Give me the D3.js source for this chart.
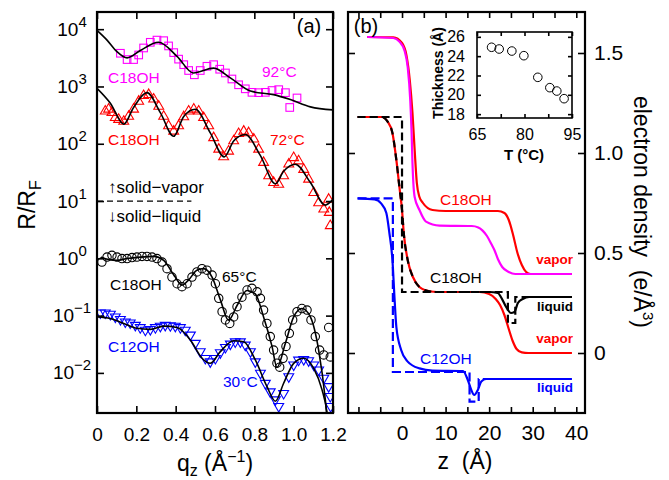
<!DOCTYPE html>
<html>
<head>
<meta charset="utf-8">
<script src="https://cdn.jsdelivr.net/npm/d3@7"></script>
<style>
  body { margin: 0; background: #fff; }
  svg text { font-family: "Liberation Sans", Arial, Helvetica, sans-serif; }
</style>
</head>
<body>
<svg id="fig" width="669" height="480"></svg>
<script>
// ---------- panel (a): R/RF vs qz ----------
const qTicks = [0, 0.2, 0.4, 0.6, 0.8, 1.0, 1.2];
const decades = [1e-2, 1e-1, 1, 10, 100, 1e3, 1e4];

// C18OH 92°C (solid-vapor), squares + fit
const sq92 = [[0.119,3800],[0.153,2950],[0.186,2950],[0.212,3550],[0.237,4700],[0.271,5900],[0.305,6450],[0.339,6300],[0.364,5100],[0.390,3900],[0.415,3000],[0.441,2400],[0.466,1900],[0.495,1600],[0.525,1900],[0.559,2250],[0.593,2400],[0.624,2000],[0.653,1720],[0.686,1350],[0.720,1070],[0.754,910],[0.788,790],[0.822,780],[0.856,790],[0.890,850],[0.924,880],[0.958,780],[0.980,430],[1.017,630]];
const fit92 = [[0,9550],[0.051,6450],[0.1,4100],[0.153,3160],[0.22,4250],[0.313,5900],[0.407,3350],[0.49,1720],[0.593,2090],[0.678,1410],[0.78,830],[0.898,720],[0.983,590],[1.085,440],[1.2,390]];

// C18OH 72°C (solid-vapor), triangles + fit
const tri72 = [[0.042,370],[0.059,400],[0.076,350],[0.093,285],[0.110,265],[0.136,245],[0.161,300],[0.186,400],[0.212,550],[0.237,690],[0.263,720],[0.288,600],[0.314,450],[0.339,300],[0.364,205],[0.390,165],[0.415,205],[0.441,295],[0.466,370],[0.492,400],[0.517,370],[0.542,285],[0.568,205],[0.593,127],[0.619,80],[0.644,59],[0.669,74],[0.695,112],[0.720,150],[0.746,165],[0.771,155],[0.797,120],[0.822,80],[0.847,47],[0.873,27.5],[0.898,21],[0.924,19.5],[0.949,27.5],[0.975,44],[1.0,57],[1.025,50],[1.051,35.5],[1.076,24],[1.102,14],[1.127,9.3],[1.153,7.2],[1.178,10.7],[1.181,6.3],[1.186,3.7]];
const fit72 = [[0,930],[0.068,510],[0.136,220],[0.186,430],[0.254,780],[0.322,350],[0.390,135],[0.441,300],[0.5,400],[0.576,155],[0.647,59],[0.695,112],[0.754,145],[0.831,62],[0.907,20],[0.949,33],[1.008,44],[1.085,21],[1.161,8.5],[1.2,10.7]];

// C18OH 65°C (solid-liquid), circles + fit
const circ65 = [[0.025,0.86],[0.051,1.05],[0.076,1.13],[0.102,1.05],[0.127,0.99],[0.153,0.99],[0.178,1.03],[0.203,1.05],[0.229,1.08],[0.254,1.08],[0.280,1.05],[0.305,0.99],[0.331,0.86],[0.356,0.66],[0.381,0.47],[0.407,0.36],[0.432,0.32],[0.458,0.36],[0.483,0.47],[0.508,0.58],[0.534,0.66],[0.559,0.62],[0.585,0.51],[0.602,0.36],[0.619,0.20],[0.636,0.117],[0.653,0.084],[0.675,0.073],[0.695,0.095],[0.712,0.143],[0.737,0.21],[0.763,0.28],[0.788,0.30],[0.814,0.26],[0.831,0.20],[0.847,0.125],[0.864,0.073],[0.881,0.043],[0.898,0.025],[0.915,0.0148],[0.929,0.0126],[0.946,0.018],[0.961,0.029],[0.978,0.049],[0.995,0.084],[1.017,0.117],[1.042,0.133],[1.068,0.125],[1.088,0.084],[1.110,0.043],[1.132,0.025],[1.153,0.0206],[1.178,0.062],[1.186,0.019]];
const fit65 = [[0.02,1.05],[0.06,0.95],[0.102,0.92],[0.153,0.99],[0.22,1.05],[0.288,1.08],[0.339,0.92],[0.398,0.47],[0.432,0.34],[0.466,0.42],[0.508,0.62],[0.542,0.66],[0.585,0.47],[0.627,0.19],[0.669,0.083],[0.712,0.15],[0.763,0.275],[0.805,0.24],[0.847,0.095],[0.890,0.029],[0.915,0.0125],[0.958,0.033],[1.0,0.095],[1.042,0.133],[1.085,0.095],[1.127,0.025],[1.161,0.0034],[1.175,0.001]];

// C12OH 30°C (solid-liquid), down triangles + fit
const tri30 = [[0.017,0.112],[0.042,0.112],[0.068,0.106],[0.093,0.095],[0.119,0.086],[0.144,0.078],[0.169,0.075],[0.195,0.068],[0.220,0.062],[0.246,0.056],[0.271,0.0575],[0.297,0.062],[0.322,0.0656],[0.347,0.068],[0.373,0.067],[0.398,0.0656],[0.424,0.062],[0.449,0.056],[0.475,0.046],[0.5,0.033],[0.525,0.0235],[0.551,0.018],[0.576,0.0157],[0.602,0.018],[0.627,0.0226],[0.653,0.028],[0.678,0.032],[0.703,0.035],[0.729,0.035],[0.754,0.0307],[0.780,0.0235],[0.805,0.0157],[0.831,0.0099],[0.856,0.0066],[0.881,0.0047],[0.907,0.0034],[0.924,0.0026],[0.949,0.0044],[0.975,0.0086],[1.0,0.0138],[1.025,0.0168],[1.051,0.0172],[1.076,0.0164],[1.102,0.0138],[1.127,0.0113],[1.153,0.0081],[1.178,0.0058],[1.186,0.0039],[1.188,0.0026]];
const fit30 = [[0,0.095],[0.068,0.089],[0.136,0.073],[0.203,0.060],[0.271,0.0575],[0.339,0.0656],[0.407,0.062],[0.475,0.0375],[0.534,0.018],[0.576,0.0147],[0.627,0.0235],[0.695,0.0365],[0.746,0.035],[0.805,0.0168],[0.864,0.0058],[0.907,0.0032],[0.949,0.0066],[1.0,0.0147],[1.051,0.018],[1.102,0.012],[1.144,0.0051],[1.169,0.0021],[1.18,0.001]];

const dividerR = 10;          // dashed line between solid-vapor / solid-liquid
const dividerQ = [0, 0.48];

// ---------- panel (b): electron density profiles ----------
const zTicks = [-10, -5, 0, 5, 10, 15, 20, 25, 30, 35, 40];
const zLabels = [0, 10, 20, 30, 40];
const rhoTicks = [0, 0.5, 1.0, 1.5];

const vapor92 = [[-8,1.58],[-2,1.575],[-0.6,1.557],[0.6,1.51],[1.3,1.43],[1.9,1.26],[2.2,1.10],[2.4,0.95],[2.6,0.85],[2.9,0.78],[4,0.715],[5.5,0.657],[8.6,0.637],[16,0.635],[17.5,0.628],[18.5,0.612],[19.5,0.585],[20.5,0.545],[21.2,0.515],[22,0.47],[23,0.43],[24.5,0.405],[26,0.395],[39,0.395]];
const vapor72 = [[-8,1.58],[-2,1.578],[0,1.55],[1,1.49],[1.8,1.36],[2.4,1.2],[2.9,1.015],[3.4,0.85],[4,0.78],[4.8,0.75],[7,0.715],[10,0.71],[22,0.71],[23.5,0.70],[24.5,0.665],[25.5,0.59],[26.5,0.50],[27.5,0.44],[28.5,0.405],[29.5,0.395],[39,0.395]];
const vaporLow = [[-10.2,1.18],[-4.7,1.18],[-3.3,1.157],[-2.2,1.10],[-1.3,0.965],[-0.6,0.83],[0,0.715],[0.4,0.60],[1.3,0.465],[2.5,0.38],[4,0.33],[5.2,0.315],[8,0.305],[17.8,0.305],[20,0.295],[21.5,0.27],[22.5,0.24],[23.5,0.19],[24.5,0.12],[25.4,0.06],[26.3,0.02],[27.5,0.003],[29,0],[39,0]];
const liquid65 = [[-10.2,1.18],[-4.7,1.18],[-3.3,1.157],[-2.2,1.10],[-1.3,0.965],[-0.6,0.83],[0,0.715],[0.4,0.60],[1.3,0.465],[2.5,0.38],[4,0.33],[5.2,0.315],[8,0.305],[17.8,0.305],[20,0.305],[22,0.30],[22.7,0.28],[23.9,0.23],[25,0.20],[25.8,0.205],[26.6,0.25],[27.7,0.27],[29.2,0.28],[39,0.28]];
const liquid65Box = [[-10.2,1.18],[0,1.18],[0,0.305],[24.3,0.305],[24.3,0.15],[26,0.15],[26,0.28],[39,0.28]];
const liquid30 = [[-10.2,0.773],[-6.3,0.768],[-4.8,0.748],[-3.6,0.70],[-2.9,0.60],[-2.2,0.465],[-1.7,0.265],[-1.3,0.13],[-0.2,0.015],[1.3,-0.043],[4,-0.077],[7,-0.088],[14,-0.09],[15.1,-0.135],[15.9,-0.185],[16.6,-0.21],[17.4,-0.185],[18.2,-0.143],[19.3,-0.13],[39,-0.13]];
const liquid30Box = [[-10.2,0.773],[-2.1,0.773],[-2.1,-0.095],[15.5,-0.095],[15.5,-0.243],[17.6,-0.243],[17.6,-0.13],[39,-0.13]];

// inset: film thickness vs temperature
const insetT = [69.6, 72.0, 76.0, 79.8, 84.2, 88.0, 90.2, 92.5];
const insetTh = [24.92, 24.74, 24.53, 24.05, 21.81, 20.74, 20.39, 19.6];
const tTicks = [65, 72.5, 80, 87.5, 95];
const tLabels = [65, 80, 95];
const thTicks = [18, 20, 22, 24, 26];

const svg = d3.select("#fig");
const font = "'Liberation Sans', Arial, Helvetica, sans-serif";
const MAG = "#ff00ff", RED = "#ff0000", BLUE = "#0000ff";

function styleAxis(g, fs) {
  g.select(".domain").remove();
  g.selectAll(".tick line").attr("stroke", "#000").attr("stroke-width", 1.6);
  g.selectAll("text").attr("font-size", fs).attr("font-family", font).attr("fill", "#000");
  g.attr("font-size", fs).attr("font-family", font);
}

function label(x, y, txt, color, size, opts = {}) {
  const t = svg.append("text").attr("x", x).attr("y", y).attr("fill", color)
    .attr("font-size", size).text(txt);
  if (opts.bold) t.attr("font-weight", "bold");
  if (opts.anchor) t.attr("text-anchor", opts.anchor);
  return t;
}

// ================= panel (a) =================
const A = {x0: 97, x1: 333, y0: 12, y1: 413};
const xq = d3.scaleLinear().domain([0, 1.2]).range([A.x0, A.x1]);
const yR = d3.scaleLog().domain([Math.pow(10, -2.7), Math.pow(10, 4.3)]).range([A.y1, A.y0]);

svg.append("clipPath").attr("id", "clipA").append("rect")
  .attr("x", A.x0).attr("y", A.y0).attr("width", A.x1 - A.x0).attr("height", A.y1 - A.y0);
const gA = svg.append("g").attr("clip-path", "url(#clipA)");

const lineA = d3.line().x(d => xq(d[0])).y(d => yR(d[1])).curve(d3.curveMonotoneX);

// divider
gA.append("line").attr("x1", xq(dividerQ[0])).attr("x2", xq(dividerQ[1]))
  .attr("y1", yR(dividerR)).attr("y2", yR(dividerR))
  .attr("stroke", "#000").attr("stroke-width", 1.2).attr("stroke-dasharray", "6,4");

// markers
gA.append("g").selectAll("rect").data(sq92).join("rect")
  .attr("x", d => xq(d[0]) - 3.8).attr("y", d => yR(d[1]) - 3.8)
  .attr("width", 7.6).attr("height", 7.6).attr("fill", "none").attr("stroke", MAG).attr("stroke-width", 1.1);

const triUp = d3.symbol().type(d3.symbolTriangle).size(42);
gA.append("g").selectAll("path").data(tri72).join("path")
  .attr("d", triUp).attr("transform", d => `translate(${xq(d[0])},${yR(d[1])})`)
  .attr("fill", "none").attr("stroke", RED).attr("stroke-width", 1.1);

gA.append("g").selectAll("circle").data(circ65).join("circle")
  .attr("cx", d => xq(d[0])).attr("cy", d => yR(d[1])).attr("r", 4.2)
  .attr("fill", "none").attr("stroke", "#000").attr("stroke-width", 1.1);

gA.append("g").selectAll("path").data(tri30).join("path")
  .attr("d", triUp).attr("transform", d => `translate(${xq(d[0])},${yR(d[1])}) rotate(180)`)
  .attr("fill", "none").attr("stroke", BLUE).attr("stroke-width", 1.1);

// fits
[fit92, fit72, fit65, fit30].forEach(f => {
  gA.append("path").datum(f).attr("d", lineA)
    .attr("fill", "none").attr("stroke", "#000").attr("stroke-width", 1.6);
});

// axes (a)
styleAxis(svg.append("g").attr("transform", `translate(0,${A.y1})`)
  .call(d3.axisBottom(xq).tickValues(qTicks).tickSize(-7).tickPadding(15)
    .tickFormat(d => d === 0 ? "0" : d3.format(".1f")(d))), 19);
styleAxis(svg.append("g").attr("transform", `translate(0,${A.y0})`)
  .call(d3.axisTop(xq).tickValues(qTicks).tickSize(-7).tickFormat("")), 19);
styleAxis(svg.append("g").attr("transform", `translate(${A.x0},0)`)
  .call(d3.axisLeft(yR).tickValues(decades).tickSize(-7).tickFormat("")), 19);
styleAxis(svg.append("g").attr("transform", `translate(${A.x1},0)`)
  .call(d3.axisRight(yR).tickValues(decades).tickSize(-7).tickFormat("")), 19);

svg.append("g").selectAll("text").data(decades).join("text")
  .attr("x", 72).attr("y", d => yR(d) + 6.5).attr("text-anchor", "middle")
  .attr("font-size", 19).attr("fill", "#000")
  .each(function(d) {
    const t = d3.select(this);
    t.append("tspan").text("10");
    t.append("tspan").attr("dy", -9).attr("font-size", 15)
      .text(String(Math.round(Math.log10(d))).replace("-", "\u2212"));
  });

svg.append("rect").attr("x", A.x0).attr("y", A.y0).attr("width", A.x1 - A.x0).attr("height", A.y1 - A.y0)
  .attr("fill", "none").attr("stroke", "#000").attr("stroke-width", 2.2);

// texts (a)
label(309, 33, "(a)", "#000", 20, {anchor: "middle"});
label(108, 83, "C18OH", MAG, 15.5);
label(262, 77, "92°C", MAG, 15.5);
label(108, 145, "C18OH", RED, 15.5);
label(270, 145, "72°C", RED, 15.5);
label(108, 193, "\u2191solid\u2212vapor", "#000", 17);
label(108, 222, "\u2193solid\u2212liquid", "#000", 17);
label(110, 290, "C18OH", "#000", 15.5);
label(222, 282, "65°C", "#000", 15.5);
label(108, 352, "C12OH", BLUE, 15.5);
label(223, 387, "30°C", BLUE, 15.5);

const yTitle = svg.append("text").attr("transform", "translate(35,205) rotate(-90)")
  .attr("text-anchor", "middle").attr("font-size", 23).attr("fill", "#000");
yTitle.append("tspan").text("R/R");
yTitle.append("tspan").attr("font-size", 16).attr("dy", 6).text("F");

const xTitleA = svg.append("text").attr("x", 215).attr("y", 471).attr("text-anchor", "middle")
  .attr("font-size", 23).attr("fill", "#000");
xTitleA.append("tspan").text("q");
xTitleA.append("tspan").attr("font-size", 16).attr("dy", 5).text("z");
xTitleA.append("tspan").attr("dy", -5).text(" (Å");
xTitleA.append("tspan").attr("font-size", 16).attr("dy", -9).text("\u22121");
xTitleA.append("tspan").attr("dy", 9).text(")");

// ================= panel (b) =================
const B = {x0: 348, x1: 585, y0: 12, y1: 413};
const xz = d3.scaleLinear().domain([-12.4, 42]).range([B.x0, B.x1]);
const yRho = d3.scaleLinear().domain([-0.3, 1.705]).range([B.y1, B.y0]);
const lineB = d3.line().x(d => xz(d[0])).y(d => yRho(d[1]));
const smoothB = d3.line().x(d => xz(d[0])).y(d => yRho(d[1])).curve(d3.curveMonotoneX);

const gB = svg.append("g");
function prof(data, color, dash, smooth) {
  const p = gB.append("path").datum(data).attr("d", smooth ? smoothB : lineB)
    .attr("fill", "none").attr("stroke", color).attr("stroke-width", 2.2);
  if (dash) p.attr("stroke-dasharray", dash);
  return p;
}

prof(liquid30Box, BLUE, "9,4", false);
prof(liquid30, BLUE, null, true);
prof(vaporLow, RED, null, true);
prof(liquid65Box, "#000", "8,4", false);
prof(liquid65.filter(d => d[0] <= 18), "#000", "7,6", true);
prof(liquid65.filter(d => d[0] >= 17.8), "#000", null, true);
prof(vapor72, RED, null, true);
prof(vapor92, MAG, null, true);

styleAxis(svg.append("g").attr("transform", `translate(0,${B.y1})`)
  .call(d3.axisBottom(xz).tickValues(zTicks).tickSize(-6).tickPadding(12)
    .tickFormat(d => zLabels.includes(d) ? d : "")), 21);
styleAxis(svg.append("g").attr("transform", `translate(0,${B.y0})`)
  .call(d3.axisTop(xz).tickValues(zTicks).tickSize(-6).tickFormat("")), 21);
styleAxis(svg.append("g").attr("transform", `translate(${B.x0},0)`)
  .call(d3.axisLeft(yRho).tickValues(rhoTicks).tickSize(-7).tickFormat("")), 21);
styleAxis(svg.append("g").attr("transform", `translate(${B.x1},0)`)
  .call(d3.axisRight(yRho).tickValues(rhoTicks).tickSize(-7).tickPadding(9)
    .tickFormat(d => d === 0 ? "0" : d3.format(".1f")(d))), 21);

svg.append("rect").attr("x", B.x0).attr("y", B.y0).attr("width", B.x1 - B.x0).attr("height", B.y1 - B.y0)
  .attr("fill", "none").attr("stroke", "#000").attr("stroke-width", 2.2);

label(366, 33, "(b)", "#000", 20, {anchor: "middle"});
label(440, 205, "C18OH", RED, 15.5);
label(573, 264, "vapor", RED, 13.5, {bold: true, anchor: "end"});
label(430, 283, "C18OH", "#000", 15.5);
label(573, 311, "liquid", "#000", 13.5, {bold: true, anchor: "end"});
label(573, 343, "vapor", RED, 13.5, {bold: true, anchor: "end"});
label(420, 364, "C12OH", BLUE, 15.5);
label(573, 392, "liquid", BLUE, 13.5, {bold: true, anchor: "end"});

svg.append("text").attr("x", 465).attr("y", 469).attr("text-anchor", "middle")
  .attr("font-size", 23).attr("fill", "#000").text("z  (Å)").style("white-space", "pre");

const rTitle = svg.append("text").attr("transform", "translate(634,212) rotate(90)")
  .attr("text-anchor", "middle").attr("font-size", 23).attr("fill", "#000").style("white-space", "pre");
rTitle.append("tspan").text("electron density  (e/Å");
rTitle.append("tspan").attr("font-size", 15).attr("dy", -9).text("3");
rTitle.append("tspan").attr("dy", 9).text(")");

// ---------- inset ----------
const I = {x0: 477, x1: 572, y0: 32, y1: 118};
const xT = d3.scaleLinear().domain([65, 95]).range([I.x0, I.x1]);
const yTh = d3.scaleLinear().domain([17.6, 26.5]).range([I.y1, I.y0]);

svg.append("rect").attr("x", I.x0).attr("y", I.y0).attr("width", I.x1 - I.x0).attr("height", I.y1 - I.y0)
  .attr("fill", "#fff");
svg.append("g").selectAll("circle").data(insetT).join("circle")
  .attr("cx", d => xT(d)).attr("cy", (d, i) => yTh(insetTh[i])).attr("r", 4.3)
  .attr("fill", "none").attr("stroke", "#000").attr("stroke-width", 1);

styleAxis(svg.append("g").attr("transform", `translate(0,${I.y1})`)
  .call(d3.axisBottom(xT).tickValues(tTicks).tickSize(-4).tickPadding(11)
    .tickFormat(d => tLabels.includes(d) ? d : "")), 16);
styleAxis(svg.append("g").attr("transform", `translate(0,${I.y0})`)
  .call(d3.axisTop(xT).tickValues(tTicks).tickSize(-4).tickFormat("")), 16);
styleAxis(svg.append("g").attr("transform", `translate(${I.x0},0)`)
  .call(d3.axisLeft(yTh).tickValues(thTicks).tickSize(-4).tickPadding(12)), 16);
styleAxis(svg.append("g").attr("transform", `translate(${I.x1},0)`)
  .call(d3.axisRight(yTh).tickValues(thTicks).tickSize(-4).tickFormat("")), 16);

svg.append("rect").attr("x", I.x0).attr("y", I.y0).attr("width", I.x1 - I.x0).attr("height", I.y1 - I.y0)
  .attr("fill", "none").attr("stroke", "#000").attr("stroke-width", 1.6);

svg.append("text").attr("transform", "translate(443,73) rotate(-90)").attr("text-anchor", "middle")
  .attr("font-size", 14).attr("font-weight", "bold").attr("fill", "#000").text("Thickness (Å)");
label(524, 160, "T (°C)", "#000", 15, {bold: true, anchor: "middle"});
</script>
</body>
</html>
